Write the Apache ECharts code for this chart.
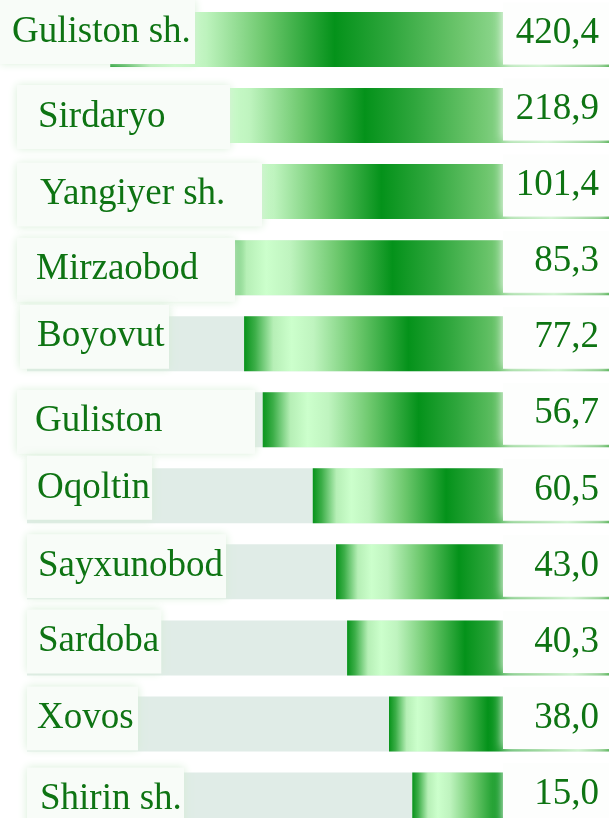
<!DOCTYPE html>
<html>
<head>
<meta charset="utf-8">
<script src="https://cdn.jsdelivr.net/npm/echarts@6/dist/echarts.min.js"></script>
<style>
html, body { margin: 0; padding: 0; background: #fff; overflow: hidden; }
/* the last row is cut by the bottom edge in the original, so the canvas runs past the window */
#main { width: 609px; height: 838px; }
</style>
</head>
<body>
<div id="main"></div>
<script>
var regions = ['Guliston sh.', 'Sirdaryo', 'Yangiyer sh.', 'Mirzaobod', 'Boyovut', 'Guliston',
               'Oqoltin', 'Sayxunobod', 'Sardoba', 'Xovos', 'Shirin sh.'];
var values = [420.4, 218.9, 101.4, 85.3, 77.2, 56.7, 60.5, 43.0, 40.3, 38.0, 15.0];
// bar length as drawn in the graphic, share of the full row (0-100)
var barLevel = [85.7, 76.3, 71.1, 67.7, 62.7, 59.5, 50.9, 46.9, 45.0, 37.8, 33.8];

// name boxes, tuned by eye
var nameX  = [12, 38, 40, 36, 37, 35, 37, 38, 38, 37, 40];
var boxL   = [0, 17, 17, 17, 20, 17, 27, 27, 27, 27, 27];
var boxR   = [195, 230, 262, 235, 169, 255, 152, 226, 161, 138, 184];
var shiftY = [-7.5, 1.5, 3, 2, -7, 2, -8, -5.5, -6.5, -5.5, -0.5];

var FONT = '"Liberation Serif", "Times New Roman", serif';
var TXT = '#0e7413';
var gridLeft = 27;

var ctx = document.createElement('canvas').getContext('2d');
ctx.font = '37px ' + FONT;

function fmt(v) {
    return v.toFixed(1).replace('.', ',');
}

var barColor = new echarts.graphic.LinearGradient(0, 0, 1, 0, [
    {offset: 0, color: '#07931a'},
    {offset: 0.03, color: '#3cae48'},
    {offset: 0.08, color: '#b6efb6'},
    {offset: 0.13, color: '#ccffcc'},
    {offset: 0.19, color: '#bff4bf'},
    {offset: 0.31, color: '#6dc86d'},
    {offset: 0.45, color: '#04921a'},
    {offset: 0.56, color: '#2ea63c'},
    {offset: 0.70, color: '#6cc56c'},
    {offset: 0.79, color: '#92d992'},
    {offset: 0.86, color: '#b4ecb4'},
    {offset: 1, color: '#3aa63a'}
]);

var trackData = regions.map(function (r, i) {
    if (i === 0) return {value: 100, itemStyle: {color: 'rgba(0,0,0,0)'}};
    return 100;
});

var baseData = barLevel.map(function (v) { return 100 - v; });

var nameData = regions.map(function (r, i) {
    var w = ctx.measureText(r).width;
    return {
        value: 100,
        label: {
            offset: [boxL[i] - gridLeft, shiftY[i]],
            padding: [12, Math.max(2, boxR[i] - nameX[i] - w), 12, nameX[i] - boxL[i]]
        }
    };
});

var myChart = echarts.init(document.getElementById('main'));

option = {
    animation: false,
    grid: {
        left: gridLeft,
        right: 0,
        top: 1.5,
        bottom: 0
    },
    xAxis: {type: 'value', min: 0, max: 100, show: false},
    yAxis: {type: 'category', data: regions, inverse: true, show: false},
    series: [
        {
            name: 'track',
            type: 'bar',
            data: trackData,
            barWidth: 55,
            barGap: '-100%',
            silent: true,
            z: 1,
            itemStyle: {color: '#e0ece7'}
        },
        {
            name: 'base',
            type: 'bar',
            stack: 's',
            data: baseData,
            barWidth: 55,
            barGap: '-100%',
            silent: true,
            z: 2,
            itemStyle: {color: 'rgba(0,0,0,0)'}
        },
        {
            name: 'value',
            type: 'bar',
            stack: 's',
            data: barLevel,
            barWidth: 55,
            barGap: '-100%',
            z: 2,
            itemStyle: {color: barColor},
            label: {
                show: true,
                position: 'insideRight',
                distance: 0,
                offset: [0, -6],
                width: 84,
                align: 'right',
                padding: [9, 10, 13, 12],
                lineHeight: 40,
                backgroundColor: '#fdfefd',
                shadowColor: 'rgba(255,255,255,1)',
                shadowBlur: 10,
                color: TXT,
                fontFamily: FONT,
                fontSize: 37,
                formatter: function (p) {
                    return fmt(values[p.dataIndex]);
                }
            }
        },
        {
            name: 'names',
            type: 'bar',
            data: nameData,
            barWidth: 55,
            barGap: '-100%',
            silent: true,
            z: 3,
            itemStyle: {color: 'rgba(0,0,0,0)'},
            label: {
                show: true,
                position: 'insideLeft',
                distance: 0,
                lineHeight: 40,
                backgroundColor: '#f8fcf8',
                shadowColor: 'rgba(214,238,214,1)',
                shadowBlur: 9,
                color: TXT,
                fontFamily: FONT,
                fontSize: 37,
                formatter: function (p) {
                    return regions[p.dataIndex];
                }
            }
        }
    ]
};

myChart.setOption(option);
</script>
</body>
</html>
